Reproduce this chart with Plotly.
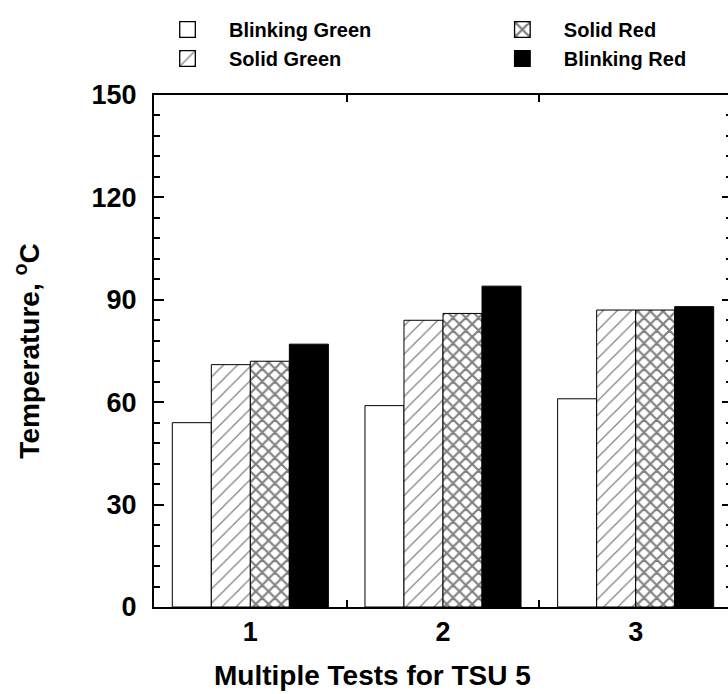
import plotly.graph_objects as go

categories = [1, 2, 3]
tick_labels = ["1", "2", "3"]
blinking_green = [54, 59, 61]
solid_green = [71, 84, 87]
solid_red = [72, 86, 87]
blinking_red = [77, 94, 88]

FONT = "Liberation Sans, Arial, sans-serif"

fig = go.Figure()
specs = [
    ("Blinking Green", blinking_green, dict(color="white"), "legend"),
    ("Solid Green", solid_green, dict(color="white", pattern=dict(shape="/", fgcolor="black", bgcolor="white", size=10, solidity=0.12)), "legend"),
    ("Solid Red", solid_red, dict(color="white", pattern=dict(shape="x", fgcolor="black", bgcolor="white", size=9, solidity=0.42)), "legend2"),
    ("Blinking Red", blinking_red, dict(color="black"), "legend2"),
]
for name, vals, mk, lg in specs:
    mk = dict(mk)
    mk["line"] = dict(color="black", width=1)
    fig.add_trace(go.Bar(x=categories, y=vals, name=name, marker=mk, legend=lg))

W, H = 742, 694
L, R, T, B = 154, 8, 95, 87
PW, PH = W - L - R, H - T - B
fig.update_layout(
    width=W, height=H,
    margin=dict(l=L, r=R, t=T, b=B),
    paper_bgcolor="white", plot_bgcolor="white",
    barmode="group", bargap=0.19, bargroupgap=0,
    font=dict(family=FONT, color="black", weight="bold"),
    showlegend=True,
    legend=dict(x=(146 - L) / PW, y=1 + (T - 10) / PH, xanchor="left", yanchor="top", itemwidth=73,
                font=dict(size=20, family=FONT, weight="bold"), bgcolor="rgba(0,0,0,0)", tracegroupgap=0),
    legend2=dict(x=(482 - L) / PW, y=1 + (T - 10) / PH, xanchor="left", yanchor="top", itemwidth=73,
                 font=dict(size=20, family=FONT, weight="bold"), bgcolor="rgba(0,0,0,0)", tracegroupgap=0),
    annotations=[dict(text="Multiple Tests for TSU 5", xref="paper", yref="paper",
                      x=(373 - L) / PW, y=-(675 - (H - B)) / PH, xanchor="center", yanchor="middle",
                      showarrow=False, font=dict(size=28, family=FONT, weight="bold"))],
)
fig.update_xaxes(
    range=[0.5, 3.5], tickvals=categories, ticktext=tick_labels, ticks="inside", ticklen=0,
    minor=dict(tickvals=[1.5, 2.5], ticks="inside", ticklen=7, tickcolor="black", tickwidth=1.5),
    showline=True, linecolor="black", linewidth=2, mirror="allticks", showgrid=False, zeroline=False,
    tickfont=dict(size=27, family=FONT, weight="bold"),
)
fig.update_yaxes(
    range=[0, 150], tickvals=[0, 30, 60, 90, 120, 150], ticks="inside", ticklen=10, tickwidth=1.5, tickcolor="black",
    minor=dict(dtick=6, ticks="inside", ticklen=6, tickcolor="black", tickwidth=1.5, showgrid=False),
    showline=True, linecolor="black", linewidth=2, mirror="allticks", showgrid=False, zeroline=False,
    tickfont=dict(size=27, family=FONT, weight="bold"), ticklabelstandoff=10,
    title=dict(text="Temperature, <sup>o</sup>C", font=dict(size=28, family=FONT, weight="bold"), standoff=44),
)

post = """
document.documentElement.style.overflow='hidden';
document.body.style.overflow='hidden';
document.body.style.margin='0';
document.querySelectorAll('.legendpoints path').forEach(function(p){
  var t = p.getAttribute('transform') || '';
  p.setAttribute('transform', t + ' scale(1.3)');
});
"""
fig.write_html("out.html", post_script=post)
